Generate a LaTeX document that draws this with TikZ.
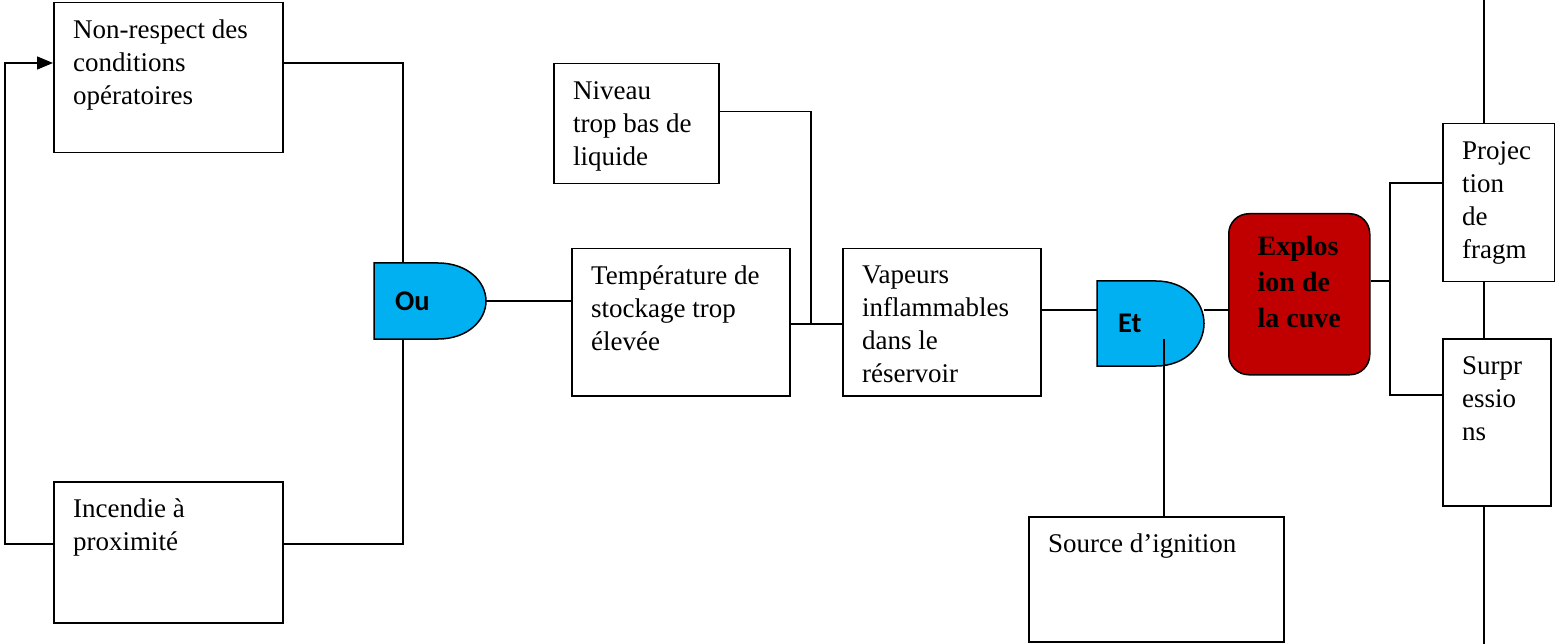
\documentclass[tikz,border=0pt]{standalone}
\usepackage{fontspec}
\setmainfont{Liberation Serif}
\newfontfamily\gatefont{Carlito}
\usetikzlibrary{arrows.meta}

\definecolor{gateblue}{HTML}{00B0F0}
\definecolor{cuvered}{HTML}{C00000}

\tikzset{
    box/.style={draw,line width=1.5pt,anchor=north west,inner sep=0pt},
    boxtext/.style={anchor=north west,align=left,inner xsep=20pt,inner ysep=18pt,font=\boxfontsize},
    gatefill/.style={draw,line width=1.5pt,fill=gateblue},
    gatelabel/.style={inner xsep=21pt,inner ysep=0pt,align=left,font=\gatefontsize},
    wire/.style={line width=1.5pt},
}

\begin{document}
\begin{tikzpicture}[x=1pt,y=-1pt]
    \providecommand{\boxfontsize}{\fontsize{27}{33}\selectfont}
    \providecommand{\gatefontsize}{\gatefont\bfseries\fontsize{28.5}{32}\selectfont}
    \providecommand{\cuvefontsize}{\bfseries\fontsize{28}{36}\selectfont}
    \useasboundingbox (0,0) rectangle (1555,644);

    % evenements
    \node[box,minimum width=229pt,minimum height=150pt,label={[boxtext]north west:{Non-respect des\\conditions\\opératoires}}] (noncond) at (53,2) {};
    \node[box,minimum width=229pt,minimum height=141pt,label={[boxtext]north west:{Incendie à\\proximité}}] (incendie) at (53,481) {};
    \node[box,minimum width=165pt,minimum height=120pt,label={[boxtext]north west:{Niveau\\trop bas de\\liquide}}] (niveau) at (553,63) {};
    \node[box,minimum width=218pt,minimum height=147pt,label={[boxtext]north west:{Température de\\stockage trop\\élevée}}] (temp) at (571,248) {};
    \node[box,minimum width=198pt,minimum height=147pt,label={[boxtext]north west:{Vapeurs\\inflammables\\dans le\\réservoir}}] (vapeurs) at (842,248) {};
    \node[box,minimum width=255pt,minimum height=125pt,label={[boxtext]north west:{Source d’ignition}}] (source) at (1028,516) {};
    \node[box,rounded corners=20pt,fill=cuvered,minimum width=141pt,minimum height=161pt,align=left,font=\cuvefontsize] (explosion) at (1228,213) {Explos\\ion de\\la cuve\\[-12pt]};
    \node[box,minimum width=112pt,minimum height=158pt,label={[boxtext]north west:{Projec\\tion\\de\\fragm}}] (projection) at (1442,123) {};
    \node[box,minimum width=108pt,minimum height=167pt,label={[boxtext]north west:{Surpr\\essio\\ns}}] (surpression) at (1442,338) {};

    % portes
    \filldraw[gatefill] (374,263) -- (438,263) .. controls (468,263) and (486,282) .. (486,301) .. controls (486,320) and (468,339) .. (438,339) -- (374,339) -- cycle;
    \node[gatelabel,minimum width=112pt,minimum height=76pt,text width=70pt] (ou) at (430,301) {Ou};
    \filldraw[gatefill] (1097,281) -- (1156,281) .. controls (1186,281) and (1204,302) .. (1204,323.5) .. controls (1204,345) and (1186,366) .. (1156,366) -- (1097,366) -- cycle;
    \node[gatelabel,minimum width=107pt,minimum height=85pt,text width=65pt] (et) at (1150.5,323.5) {Et};

    \coordinate (loopup) at (5,63);
    \coordinate (loopdown) at (5,544);
    \coordinate (jn) at (811,324);
    \coordinate (etin) at ([yshift=13.5pt]et.west);
    \coordinate (etout) at ([yshift=13.5pt]et.east);
    \coordinate (etdown) at (1164,339);
    \coordinate (fork) at (1390,281);
    \coordinate (forkup) at (1390,183);
    \coordinate (forkdown) at (1390,395);
    \coordinate (axtop) at (1484,0);
    \coordinate (axbot) at (1484,644);

    % liaisons
    \draw[wire,-{Triangle[length=16pt,width=13pt]}] (incendie.west |- loopdown) -- (loopdown) -- (loopup) -- (noncond.west |- loopup);
    \draw[wire] (noncond.east |- loopup) -| ([xshift=-27pt]ou.north);
    \draw[wire] (incendie.east |- loopdown) -| ([xshift=-27pt]ou.south);
    \draw[wire] (ou.east) -- (ou.east -| temp.west);
    \draw[wire] ([yshift=12pt]niveau.east) -| (jn);
    \draw[wire] (temp.east |- jn) -- (vapeurs.west |- jn);
    \draw[wire] (vapeurs.east |- etin) -- (etin);
    \draw[wire] (etout) -- (etout -| explosion.west);
    \draw[wire] (etdown) -- (etdown |- source.north);
    \draw[wire] (explosion.east |- fork) -- (fork);
    \draw[wire] (projection.west |- forkup) -- (forkup) -- (forkdown) -- (surpression.west |- forkdown);
    \draw[wire] (axtop) -- (axtop |- projection.north);
    \draw[wire] (axtop |- projection.south) -- (axtop |- surpression.north);
    \draw[wire] (axtop |- surpression.south) -- (axbot);
\end{tikzpicture}
\end{document}
